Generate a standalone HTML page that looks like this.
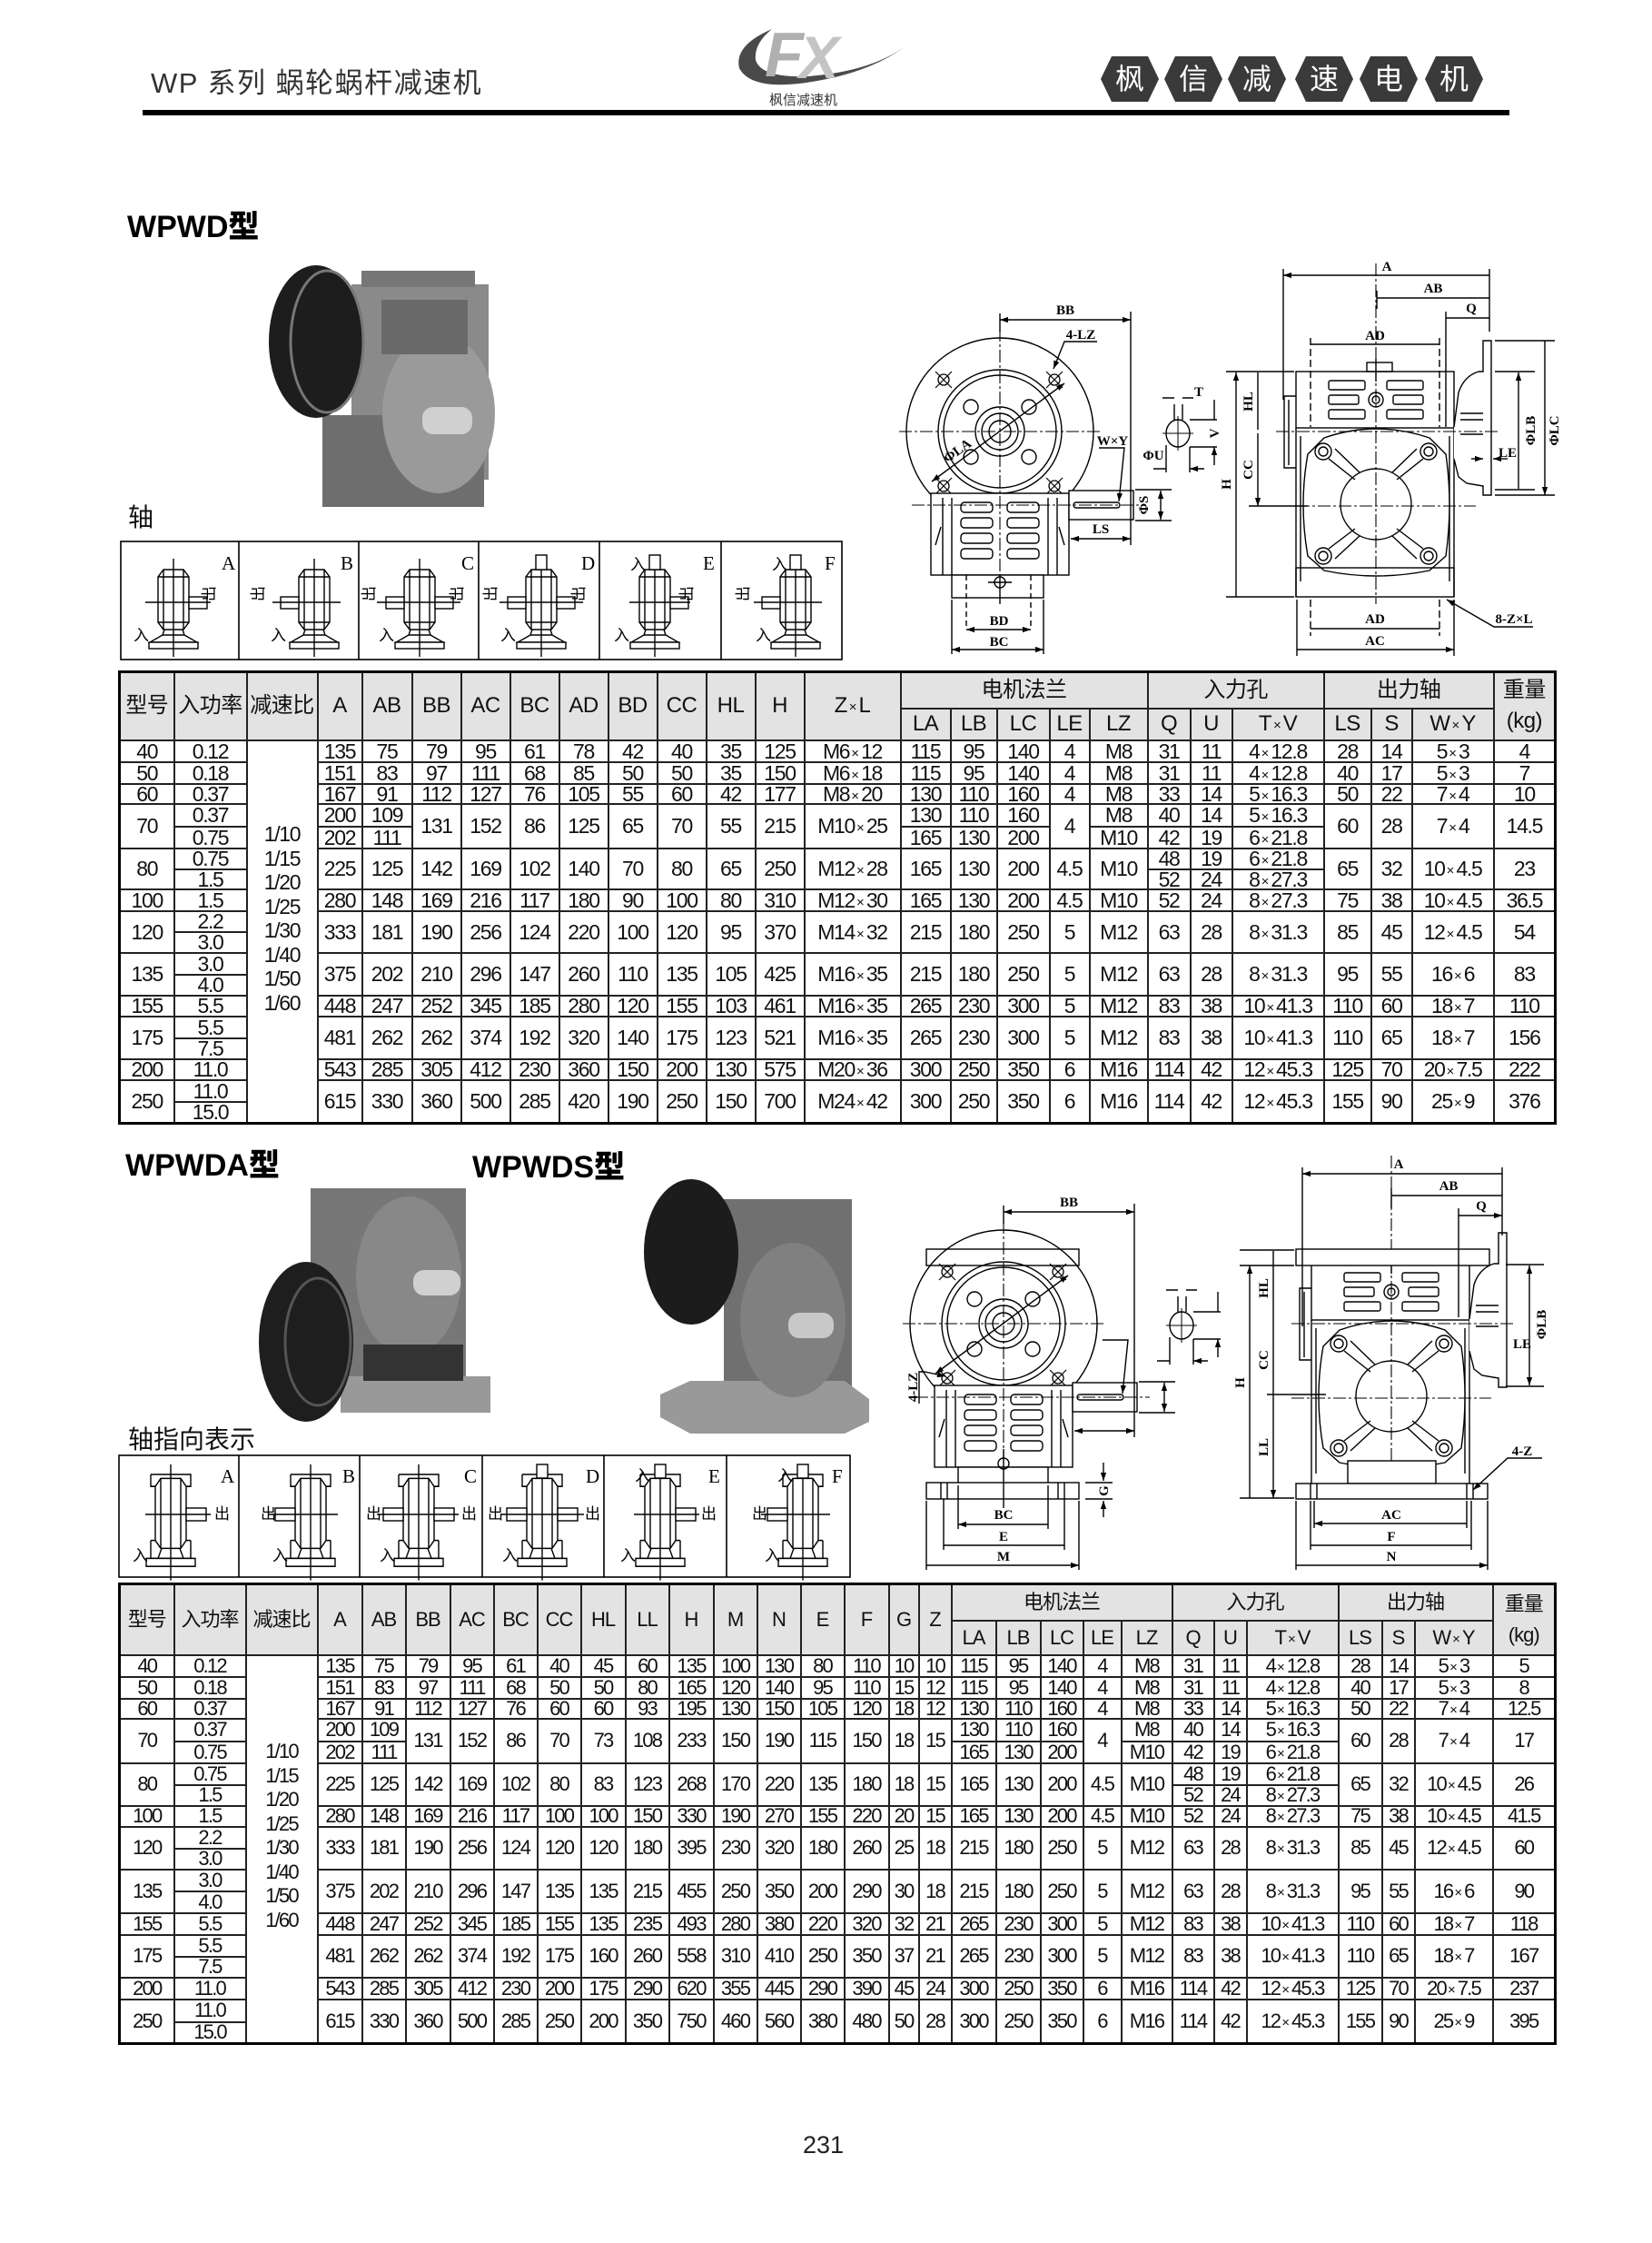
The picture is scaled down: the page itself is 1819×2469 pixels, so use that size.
<!DOCTYPE html>
<html><head><meta charset="utf-8">
<style>
html,body{margin:0;padding:0;background:#fff}
body{width:1819px;height:2469px;position:relative;overflow:hidden;font-family:"Liberation Sans","Noto Sans CJK SC",sans-serif}
.abs{position:absolute}
.t{position:absolute;border-collapse:collapse;table-layout:fixed;font-family:"Liberation Sans","Noto Sans CJK SC",sans-serif;font-size:23px;letter-spacing:-1.3px;border:3px solid #000;color:#111}
.t td{border:2px solid #222;padding:0;text-align:center;white-space:nowrap;overflow:hidden;line-height:18px;height:auto}
.t thead td{background:#e3e3e3;font-size:24px;letter-spacing:-0.5px;line-height:22px}
.t2{font-size:22px;letter-spacing:-1.8px}
.t2 thead td{font-size:22px;letter-spacing:-1px}
.x{font-size:15px;margin:0 2px;letter-spacing:0;line-height:0;vertical-align:1px}
.r{vertical-align:middle;line-height:26.5px !important;padding-bottom:28px !important}
.h{font-weight:900;font-size:34px;letter-spacing:0px;color:#000}
.dg text{font-family:"Liberation Serif",serif}
.ls text{font-family:"Liberation Serif","Noto Serif CJK SC",serif}
.cj text{font-family:"Noto Sans CJK SC",sans-serif}
</style></head><body>

<!-- Header -->
<div class="abs" style="left:166px;top:66px;font-size:31px;color:#333;letter-spacing:1.5px;font-family:'Liberation Sans','Noto Sans CJK SC',sans-serif">WP 系列 蜗轮蜗杆减速机</div>
<div class="abs h" style="left:140px;top:222px;font-family:'Liberation Sans','Noto Sans CJK SC',sans-serif">WPWD型</div>
<div class="abs" style="left:141px;top:548px;font-size:28px;color:#111;font-family:'Liberation Sans','Noto Sans CJK SC',sans-serif">轴</div>
<div class="abs h" style="left:138px;top:1255px;font-family:'Liberation Sans','Noto Sans CJK SC',sans-serif">WPWDA型</div>
<div class="abs h" style="left:520px;top:1257px;font-family:'Liberation Sans','Noto Sans CJK SC',sans-serif">WPWDS型</div>
<div class="abs" style="left:141px;top:1563px;font-size:28px;color:#111;font-family:'Liberation Sans','Noto Sans CJK SC',sans-serif">轴指向表示</div>
<div class="abs" style="left:884px;top:2346px;font-size:27px;color:#222">231</div>

<svg class="abs" style="left:0;top:0;font-family:'Liberation Sans','Noto Sans CJK SC',sans-serif" width="1819" height="2469" viewBox="0 0 1819 2469">
<defs>
<marker id="a" viewBox="0 0 10 10" refX="10" refY="5" markerUnits="userSpaceOnUse" markerWidth="11" markerHeight="9" orient="auto-start-reverse"><path d="M0,1.5L10,5L0,8.5z" fill="#000"/></marker>
<g id="xm"><circle r="6" fill="none" stroke="#000" stroke-width="1.3"/><path d="M-9,-9L9,9M9,-9L-9,9" stroke="#000" stroke-width="1.2"/></g>
<g id="cap" fill="none" stroke="#000" stroke-width="1.4">
<path d="M-11,-36H11L17,-28V22L11,30H-11L-17,22V-28Z" fill="#fff"/>
<path d="M-11,-36V30M11,-36V30M-17,-28H17M-17,22H17"/>
<path d="M-10,30L-12,36H12L10,30M-12,36L-26,44H26L12,36"/>
<rect x="-27" y="44" width="54" height="7" fill="#fff"/>
<path d="M0,-48V60"/>
</g>
<g id="cap2" fill="none" stroke="#000" stroke-width="1.4">
<path d="M-22,-40H22V-28H17M-22,-40V-28H-17" />
<path d="M-11,-36H11L17,-28V26L11,34H-11L-17,26V-28Z" fill="#fff"/>
<path d="M-11,-36V34M11,-36V34"/>
<path d="M-22,26V44H22V26M-17,26H-22M17,26H22"/>
<path d="M-10,34L-14,44M10,34L14,44"/>
<rect x="-27" y="44" width="54" height="8" fill="#fff"/>
<path d="M0,-50V66"/>
</g>
<g id="lv" fill="none" stroke="#000" stroke-width="1.4">
<circle cx="1101" cy="475" r="103"/>
<circle cx="1101" cy="475" r="68"/>
<circle cx="1101" cy="475" r="62"/>
<circle cx="1101" cy="475" r="27"/>
<circle cx="1101" cy="475" r="20"/>
<circle cx="1101" cy="475" r="12"/>
<circle cx="1069" cy="448" r="8"/><circle cx="1133" cy="448" r="8"/>
<circle cx="1069" cy="503" r="8"/><circle cx="1133" cy="503" r="8"/>
<use href="#xm" x="1039" y="418"/><use href="#xm" x="1161" y="418"/>
<use href="#xm" x="1039" y="535"/><use href="#xm" x="1161" y="535"/>
<rect x="1025" y="543" width="152" height="90" fill="#fff"/>
<path d="M1038,548V633M1048,548V633M1154,548V633M1164,548V633"/>
<path d="M1030,600L1036,580M1172,600L1166,580"/>
<rect x="1058" y="553" width="35" height="11" rx="4"/><rect x="1058" y="570" width="35" height="11" rx="4"/><rect x="1058" y="587" width="35" height="11" rx="4"/><rect x="1058" y="604" width="35" height="11" rx="4"/>
<rect x="1109" y="553" width="35" height="11" rx="4"/><rect x="1109" y="570" width="35" height="11" rx="4"/><rect x="1109" y="587" width="35" height="11" rx="4"/><rect x="1109" y="604" width="35" height="11" rx="4"/>
<rect x="1177" y="540" width="71" height="32" fill="#fff"/>
<path d="M1185,553H1230a3,3 0 0 1 0,6H1185a3,3 0 0 1 0,-6"/>
<path d="M990,475H1212M1101,362V665M1004,556H1262" stroke-dasharray="14 3 3 3" stroke-width="1.1"/>
<path d="M1101,352H1245" marker-start="url(#a)" marker-end="url(#a)"/>
<path d="M1245,343V600M1101,345V365"/>
<path d="M1179,593H1245" marker-start="url(#a)" marker-end="url(#a)"/>
<path d="M1278,540V572" marker-start="url(#a)" marker-end="url(#a)"/>
<path d="M1250,539H1290M1250,573H1290"/>
<path d="M1026,530L1172,422" marker-start="url(#a)" marker-end="url(#a)"/>
<path d="M1210,493H1238L1232,552" marker-end="url(#a)"/>
<ellipse cx="1297" cy="477" rx="13" ry="15"/>
<path d="M1280,477H1314M1297,458V496" stroke-width="1"/>
<path d="M1293,462V445M1302,462V445M1280,438H1293M1314,438H1302" />
<path d="M1310,462H1340M1310,492H1340M1337,440V462M1337,512V492" marker-end="url(#a)"/>
<path d="M1284,490V520M1310,492V520M1270,516H1284M1326,516H1310" marker-end="url(#a)"/>
</g>
<g id="rv" fill="none" stroke="#000" stroke-width="1.4">
<rect x="1427" y="409" width="174" height="62" fill="#fff"/>
<rect x="1505" y="399" width="28" height="10"/>
<path d="M1515,395V420"/>
<rect x="1463" y="419" width="40" height="10" rx="2"/><rect x="1463" y="435" width="33" height="10" rx="2"/><rect x="1463" y="451" width="40" height="10" rx="2"/>
<rect x="1527" y="419" width="40" height="10" rx="2"/><rect x="1534" y="435" width="33" height="10" rx="2"/><rect x="1527" y="451" width="40" height="10" rx="2"/>
<circle cx="1515" cy="440" r="8"/><circle cx="1515" cy="440" r="4"/>
<path d="M1427,471V657M1601,471V657M1432,480V640M1596,480V640"/>
<path d="M1458,482Q1515,462 1574,482L1592,500Q1600,555 1592,612L1574,628Q1515,640 1458,628L1440,612Q1430,555 1440,500Z" fill="#fff"/>
<circle cx="1515" cy="555" r="39"/>
<path d="M1463,505L1492,528M1567,505L1538,528M1463,604L1492,582M1567,604L1538,582M1470,494L1497,520M1560,494L1533,520M1470,615L1497,590M1560,615L1533,590"/>
<circle cx="1457" cy="497" r="9"/><circle cx="1457" cy="497" r="5"/>
<circle cx="1573" cy="497" r="9"/><circle cx="1573" cy="497" r="5"/>
<circle cx="1457" cy="612" r="9"/><circle cx="1457" cy="612" r="5"/>
<circle cx="1573" cy="612" r="9"/><circle cx="1573" cy="612" r="5"/>
<path d="M1427,436H1414V515H1427M1419,440V512"/>
<path d="M1601,470L1606,432Q1612,414 1628,409L1633,409V375H1642V545H1633V535L1615,532L1606,525L1601,505" fill="#fff"/>
<path d="M1608,455H1633M1608,462H1633M1608,478H1633"/>
<path d="M1405,475H1652M1405,557H1625M1515,290V665" stroke-dasharray="14 3 3 3" stroke-width="1.1"/>
</g>
</defs>

<!-- logo -->
<path d="M850,32Q808,50 814,75Q826,98 880,92Q960,82 1003,46Q965,78 890,84Q838,86 832,66Q830,48 850,32Z" fill="#4a4a4a"/>
<text x="842" y="84" font-size="70" font-style="italic" font-weight="bold" fill="#b0b0b0" style="font-family:'Liberation Sans',sans-serif">F</text>
<text x="880" y="86" font-size="66" font-style="italic" font-weight="bold" fill="#c4c4c4" style="font-family:'Liberation Sans',sans-serif">X</text>
<text x="847" y="115" font-size="15" fill="#333" style="font-family:'Noto Sans CJK SC',sans-serif">枫信减速机</text>
<!-- hexes -->
<g fill="#3a3a3a">
<path d="M1212,87L1224,62H1264L1276,87L1264,112H1224Z"/>
<path d="M1282,87L1294,62H1334L1346,87L1334,112H1294Z"/>
<path d="M1352,87L1364,62H1404L1416,87L1404,112H1364Z"/>
<path d="M1426,87L1438,62H1478L1490,87L1478,112H1438Z"/>
<path d="M1497,87L1509,62H1549L1561,87L1549,112H1509Z"/>
<path d="M1569,87L1581,62H1621L1633,87L1621,112H1581Z"/>
</g>
<g class="cj" fill="#fff" font-size="32" text-anchor="middle">
<text x="1244" y="98">枫</text><text x="1314" y="98">信</text><text x="1384" y="98">减</text><text x="1458" y="98">速</text><text x="1529" y="98">电</text><text x="1601" y="98">机</text>
</g>
<rect x="157" y="121" width="1505" height="6" fill="#000"/>

<!-- photo 1 -->
<rect x="387" y="313" width="151" height="215" fill="#8a8a8a"/>
<rect x="398" y="298" width="125" height="18" fill="#777"/>
<rect x="355" y="457" width="178" height="101" fill="#6e6e6e"/>
<ellipse cx="483" cy="455" rx="62" ry="88" fill="#9a9a9a"/>
<ellipse cx="348" cy="376" rx="52" ry="84" fill="#1d1d1d"/>
<ellipse cx="360" cy="376" rx="40" ry="78" fill="none" stroke="#777" stroke-width="3"/>
<rect x="420" y="330" width="95" height="60" fill="#6a6a6a"/>
<rect x="465" y="448" width="55" height="30" rx="12" fill="#d0d0d0"/>
<!-- photo DA -->
<rect x="342" y="1308" width="171" height="224" fill="#777"/>
<ellipse cx="450" cy="1405" rx="58" ry="88" fill="#888"/>
<rect x="375" y="1515" width="165" height="40" fill="#999"/>
<rect x="400" y="1480" width="110" height="40" fill="#333"/>
<ellipse cx="337" cy="1477" rx="52" ry="88" fill="#1e1e1e"/>
<ellipse cx="350" cy="1477" rx="36" ry="70" fill="none" stroke="#555" stroke-width="3"/>
<rect x="455" y="1398" width="52" height="28" rx="12" fill="#d0d0d0"/>
<!-- photo DS -->
<rect x="797" y="1320" width="141" height="220" fill="#707070"/>
<path d="M727,1535L760,1520H930L957,1540V1565L930,1578H760L727,1560Z" fill="#999"/>
<ellipse cx="873" cy="1453" rx="58" ry="85" fill="#808080"/>
<ellipse cx="761" cy="1378" rx="52" ry="80" fill="#1c1c1c"/>
<rect x="868" y="1445" width="50" height="28" rx="12" fill="#c8c8c8"/>

<!-- icon boxes top -->
<g fill="none" stroke="#000" stroke-width="1.6">
<rect x="133" y="596" width="794" height="130"/>
<path d="M263,596V726M395,596V726M527,596V726M660,596V726M794,596V726"/>
</g>
<g fill="none" stroke="#000" stroke-width="1.4">
<use href="#cap" x="191" y="663"/><rect x="208" y="657" width="20" height="13" fill="#fff"/><path d="M160,663H232"/>
<use href="#cap" x="346" y="663"/><rect x="309" y="657" width="20" height="13" fill="#fff"/><path d="M300,663H375"/>
<use href="#cap" x="462" y="663"/><rect x="425" y="657" width="20" height="13" fill="#fff"/><rect x="479" y="657" width="20" height="13" fill="#fff"/><path d="M415,663H507"/>
<use href="#cap" x="596" y="663"/><rect x="559" y="657" width="20" height="13" fill="#fff"/><rect x="613" y="657" width="20" height="13" fill="#fff"/><rect x="590" y="611" width="12" height="16" fill="#fff"/><path d="M550,663H642"/>
<use href="#cap" x="721" y="663"/><rect x="738" y="657" width="20" height="13" fill="#fff"/><rect x="715" y="611" width="12" height="16" fill="#fff"/><path d="M693,663H760"/>
<use href="#cap" x="876" y="663"/><rect x="839" y="657" width="20" height="13" fill="#fff"/><rect x="870" y="611" width="12" height="16" fill="#fff"/><path d="M830,663H905"/>
</g>
<g class="ls" font-size="21" fill="#000">
<text x="244" y="627">A</text><text x="375" y="627">B</text><text x="508" y="627">C</text><text x="640" y="627">D</text><text x="774" y="627">E</text><text x="908" y="627">F</text>
</g>
<g class="cj" font-size="17" fill="#000">
<text x="147" y="705">入</text><text x="298" y="705">入</text><text x="417" y="705">入</text><text x="551" y="705">入</text><text x="676" y="705">入</text><text x="832" y="705">入</text>
<text x="694" y="627">入</text><text x="850" y="627">入</text>
<text transform="translate(236,662) rotate(-90)">出</text>
<text transform="translate(290,662) rotate(-90)">出</text>
<text transform="translate(412,662) rotate(-90)">出</text><text transform="translate(509,662) rotate(-90)">出</text>
<text transform="translate(546,662) rotate(-90)">出</text><text transform="translate(643,662) rotate(-90)">出</text>
<text transform="translate(762,662) rotate(-90)">出</text>
<text transform="translate(824,662) rotate(-90)">出</text>
</g>

<!-- icon boxes bottom -->
<g fill="none" stroke="#000" stroke-width="1.6">
<rect x="131" y="1602" width="805" height="134"/>
<path d="M263,1602V1736M396,1602V1736M531,1602V1736M665,1602V1736M800,1602V1736"/>
</g>
<g fill="none" stroke="#000" stroke-width="1.4">
<g transform="translate(188,1667) scale(1,1.1)"><use href="#cap2"/></g><rect x="205" y="1660" width="22" height="14" fill="#fff"/><path d="M160,1667H232"/>
<g transform="translate(342,1667) scale(1,1.1)"><use href="#cap2"/></g><rect x="303" y="1660" width="22" height="14" fill="#fff"/><path d="M296,1667H372"/>
<g transform="translate(461,1667) scale(1,1.1)"><use href="#cap2"/></g><rect x="422" y="1660" width="22" height="14" fill="#fff"/><rect x="478" y="1660" width="22" height="14" fill="#fff"/><path d="M415,1667H505"/>
<g transform="translate(597,1667) scale(1,1.1)"><use href="#cap2"/></g><rect x="558" y="1660" width="22" height="14" fill="#fff"/><rect x="614" y="1660" width="22" height="14" fill="#fff"/><rect x="591" y="1612" width="12" height="15" fill="#fff"/><path d="M551,1667H643"/>
<g transform="translate(727,1667) scale(1,1.1)"><use href="#cap2"/></g><rect x="744" y="1660" width="22" height="14" fill="#fff"/><rect x="721" y="1612" width="12" height="15" fill="#fff"/><path d="M698,1667H770"/>
<g transform="translate(884,1667) scale(1,1.1)"><use href="#cap2"/></g><rect x="845" y="1660" width="22" height="14" fill="#fff"/><rect x="878" y="1612" width="12" height="15" fill="#fff"/><path d="M838,1667H914"/>
</g>
<g class="ls" font-size="21" fill="#000">
<text x="243" y="1632">A</text><text x="377" y="1632">B</text><text x="511" y="1632">C</text><text x="645" y="1632">D</text><text x="780" y="1632">E</text><text x="916" y="1632">F</text>
</g>
<g class="cj" font-size="17" fill="#000">
<text x="146" y="1718">入</text><text x="300" y="1718">入</text><text x="418" y="1718">入</text><text x="553" y="1718">入</text><text x="683" y="1718">入</text><text x="842" y="1718">入</text>
<text x="699" y="1630">入</text><text x="856" y="1630">入</text>
<text x="236" y="1672">出</text><text x="287" y="1672">出</text><text x="403" y="1672">出</text><text x="508" y="1672">出</text>
<text x="537" y="1672">出</text><text x="644" y="1672">出</text><text x="772" y="1672">出</text><text x="828" y="1672">出</text>
</g>

<!-- Diagram 1 -->
<use href="#lv"/>
<g fill="none" stroke="#000" stroke-width="1.4">
<rect x="1048" y="633" width="101" height="25" fill="#fff"/>
<path d="M1064,633V693M1135,633V693" stroke-dasharray="6 4"/>
<circle cx="1101" cy="641" r="6"/><path d="M1088,641H1114M1101,632V664"/>
<path d="M1064,693H1135" marker-start="url(#a)" marker-end="url(#a)"/>
<path d="M1048,660V720M1149,660V720"/>
<path d="M1048,715H1149" marker-start="url(#a)" marker-end="url(#a)"/>
<path d="M1208,376H1172L1160,406" marker-end="url(#a)"/>
</g>
<use href="#rv"/>
<g fill="none" stroke="#000" stroke-width="1.4">
<rect x="1427" y="625" width="174" height="32"/>
<path d="M1413,303H1640M1516,328H1640M1592,350H1640M1443,379H1585M1443,692H1585M1428,715H1601" marker-start="url(#a)" marker-end="url(#a)"/>
<path d="M1413,296V440M1640,296V365M1516,320V340M1592,343V470"/>
<path d="M1443,372V470M1585,372V470M1443,660V700M1585,660V700" stroke-dasharray="8 4"/>
<path d="M1428,660V722M1601,660V722"/>
<path d="M1361,410V657M1385,410V473M1385,477V557" marker-start="url(#a)" marker-end="url(#a)"/>
<path d="M1350,409H1425M1350,657H1425M1375,557H1440"/>
<path d="M1672,410V538M1701,375V545" marker-start="url(#a)" marker-end="url(#a)"/>
<path d="M1646,409H1690M1646,539H1690M1646,375H1712M1646,545H1712"/>
<path d="M1620,505H1633" marker-end="url(#a)"/><path d="M1660,505H1644" marker-end="url(#a)"/>
<path d="M1688,690H1645L1593,660" marker-end="url(#a)"/>
</g>
<g class="dg" font-size="15" font-weight="bold" fill="#000" text-anchor="middle">
<text x="1173" y="346">BB</text>
<text x="1190" y="373">4-LZ</text>
<text transform="translate(1057,500) rotate(-36)">ΦLA</text>
<text x="1225" y="490">W×Y</text>
<text x="1212" y="587">LS</text>
<text transform="translate(1264,556) rotate(-90)">ΦS</text>
<text x="1320" y="436">T</text>
<text transform="translate(1342,477) rotate(-90)">V</text>
<text x="1270" y="506">ΦU</text>
<text x="1100" y="688">BD</text>
<text x="1100" y="711">BC</text>
<text x="1527" y="298">A</text>
<text x="1578" y="322">AB</text>
<text x="1620" y="344">Q</text>
<text x="1514" y="374">AD</text>
<text transform="translate(1355,533) rotate(-90)">H</text>
<text transform="translate(1379,442) rotate(-90)">HL</text>
<text transform="translate(1379,517) rotate(-90)">CC</text>
<text transform="translate(1690,474) rotate(-90)">ΦLB</text>
<text transform="translate(1716,474) rotate(-90)">ΦLC</text>
<text x="1660" y="503">LE</text>
<text x="1514" y="686">AD</text>
<text x="1514" y="710">AC</text>
<text x="1667" y="686">8-Z×L</text>
</g>

<!-- Diagram 2 -->
<g fill="none" stroke="#000" stroke-width="1.4">
<rect x="1020" y="1375" width="168" height="18"/>
</g>
<use href="#lv" transform="translate(4,982)"/>
<g fill="none" stroke="#000" stroke-width="1.4">
<rect x="1055" y="1615" width="99" height="18" fill="#fff"/>
<rect x="1020" y="1632" width="168" height="18" fill="#fff"/>
<path d="M1036,1632V1650M1043,1632V1650M1165,1632V1650M1172,1632V1650"/>
<circle cx="1105" cy="1611" r="6"/><path d="M1105,1595V1660"/>
<path d="M1055,1678H1154M1039,1701H1172M1020,1723H1188" marker-start="url(#a)" marker-end="url(#a)"/>
<path d="M1055,1635V1683M1154,1635V1683M1039,1650V1706M1172,1650V1706M1020,1652V1728M1188,1652V1728"/>
<path d="M1215,1610V1630" marker-end="url(#a)"/><path d="M1215,1670V1652" marker-end="url(#a)"/>
<path d="M1195,1632H1225M1195,1650H1225"/>
<path d="M1012,1545V1510H1018L1041,1515" marker-end="url(#a)"/>
</g>
<use href="#rv" transform="translate(17,982)"/>
<g fill="none" stroke="#000" stroke-width="1.4">
<rect x="1427" y="1375" width="213" height="18" fill="#fff"/>
<rect x="1484" y="1608" width="97" height="25" fill="#fff"/>
<rect x="1427" y="1633" width="211" height="17" fill="#fff"/>
<path d="M1443,1633V1650M1450,1633V1650M1615,1633V1650M1622,1633V1650"/>
<path d="M1434,1292H1654M1532,1316H1654M1606,1338H1654" marker-start="url(#a)" marker-end="url(#a)"/>
<path d="M1434,1285V1460M1654,1285V1360M1532,1308V1330M1606,1330V1450"/>
<path d="M1376,1393V1649M1402,1377V1457M1402,1457V1535M1402,1535V1649" marker-start="url(#a)" marker-end="url(#a)"/>
<path d="M1365,1376H1425M1365,1393H1425M1365,1649H1425M1395,1535H1460"/>
<path d="M1447,1677H1615M1443,1701H1620M1427,1723H1638" marker-start="url(#a)" marker-end="url(#a)"/>
<path d="M1447,1652V1682M1615,1652V1682M1443,1652V1706M1620,1652V1706M1427,1652V1728M1638,1652V1728"/>
<path d="M1684,1393V1525" marker-start="url(#a)" marker-end="url(#a)"/>
<path d="M1658,1392H1700M1658,1526H1700"/>
<path d="M1698,1605H1660L1622,1640" marker-end="url(#a)"/>
</g>
<g class="dg" font-size="15" font-weight="bold" fill="#000" text-anchor="middle">
<text x="1177" y="1328">BB</text>
<text transform="translate(1010,1527) rotate(-90)">4-LZ</text>
<text x="1105" y="1672">BC</text>
<text x="1105" y="1696">E</text>
<text x="1105" y="1718">M</text>
<text transform="translate(1220,1641) rotate(-90)">G</text>
<text x="1540" y="1286">A</text>
<text x="1595" y="1310">AB</text>
<text x="1631" y="1332">Q</text>
<text transform="translate(1370,1522) rotate(-90)">H</text>
<text transform="translate(1396,1418) rotate(-90)">HL</text>
<text transform="translate(1396,1497) rotate(-90)">CC</text>
<text transform="translate(1396,1593) rotate(-90)">LL</text>
<text x="1532" y="1672">AC</text>
<text x="1532" y="1696">F</text>
<text x="1532" y="1718">N</text>
<text x="1676" y="1602">4-Z</text>
<text transform="translate(1702,1458) rotate(-90)">ΦLB</text>
<text x="1676" y="1484">LE</text>
</g>
</svg>

<!-- Table 1 -->
<table class="t" style="left:130px;top:738px;width:1581px">
<colgroup>
<col style="width:60px"><col style="width:80px"><col style="width:78px"><col style="width:49px"><col style="width:55px"><col style="width:54px"><col style="width:54px"><col style="width:54px"><col style="width:54px"><col style="width:54px"><col style="width:54px"><col style="width:54px"><col style="width:54px"><col style="width:106px"><col style="width:55px"><col style="width:51px"><col style="width:58px"><col style="width:44px"><col style="width:64px"><col style="width:47px"><col style="width:46px"><col style="width:101px"><col style="width:52px"><col style="width:45px"><col style="width:90px"><col style="width:68px">
</colgroup>
<thead>
<tr style="height:40px"><td rowspan="2">型号</td><td rowspan="2">入功率</td><td rowspan="2">减速比</td><td rowspan="2">A</td><td rowspan="2">AB</td><td rowspan="2">BB</td><td rowspan="2">AC</td><td rowspan="2">BC</td><td rowspan="2">AD</td><td rowspan="2">BD</td><td rowspan="2">CC</td><td rowspan="2">HL</td><td rowspan="2">H</td><td rowspan="2">Z<span class="x">×</span>L</td><td colspan="5">电机法兰</td><td colspan="3">入力孔</td><td colspan="3">出力轴</td><td rowspan="2" style="line-height:34px">重量<br>(kg)</td></tr>
<tr style="height:35px"><td>LA</td><td>LB</td><td>LC</td><td>LE</td><td>LZ</td><td>Q</td><td>U</td><td>T<span class="x">×</span>V</td><td>LS</td><td>S</td><td>W<span class="x">×</span>Y</td></tr>
</thead>
<tbody>
<tr style="height:24px"><td>40</td><td>0.12</td><td rowspan="18" class="r">1/10<br>1/15<br>1/20<br>1/25<br>1/30<br>1/40<br>1/50<br>1/60</td><td>135</td><td>75</td><td>79</td><td>95</td><td>61</td><td>78</td><td>42</td><td>40</td><td>35</td><td>125</td><td>M6<span class="x">×</span>12</td><td>115</td><td>95</td><td>140</td><td>4</td><td>M8</td><td>31</td><td>11</td><td>4<span class="x">×</span>12.8</td><td>28</td><td>14</td><td>5<span class="x">×</span>3</td><td>4</td></tr>
<tr style="height:24px"><td>50</td><td>0.18</td><td>151</td><td>83</td><td>97</td><td>111</td><td>68</td><td>85</td><td>50</td><td>50</td><td>35</td><td>150</td><td>M6<span class="x">×</span>18</td><td>115</td><td>95</td><td>140</td><td>4</td><td>M8</td><td>31</td><td>11</td><td>4<span class="x">×</span>12.8</td><td>40</td><td>17</td><td>5<span class="x">×</span>3</td><td>7</td></tr>
<tr style="height:22px"><td>60</td><td>0.37</td><td>167</td><td>91</td><td>112</td><td>127</td><td>76</td><td>105</td><td>55</td><td>60</td><td>42</td><td>177</td><td>M8<span class="x">×</span>20</td><td>130</td><td>110</td><td>160</td><td>4</td><td>M8</td><td>33</td><td>14</td><td>5<span class="x">×</span>16.3</td><td>50</td><td>22</td><td>7<span class="x">×</span>4</td><td>10</td></tr>
<tr style="height:25px"><td rowspan="2">70</td><td>0.37</td><td>200</td><td>109</td><td rowspan="2">131</td><td rowspan="2">152</td><td rowspan="2">86</td><td rowspan="2">125</td><td rowspan="2">65</td><td rowspan="2">70</td><td rowspan="2">55</td><td rowspan="2">215</td><td rowspan="2">M10<span class="x">×</span>25</td><td>130</td><td>110</td><td>160</td><td rowspan="2">4</td><td>M8</td><td>40</td><td>14</td><td>5<span class="x">×</span>16.3</td><td rowspan="2">60</td><td rowspan="2">28</td><td rowspan="2">7<span class="x">×</span>4</td><td rowspan="2">14.5</td></tr>
<tr style="height:24px"><td>0.75</td><td>202</td><td>111</td><td>165</td><td>130</td><td>200</td><td>M10</td><td>42</td><td>19</td><td>6<span class="x">×</span>21.8</td></tr>
<tr style="height:23px"><td rowspan="2">80</td><td>0.75</td><td rowspan="2">225</td><td rowspan="2">125</td><td rowspan="2">142</td><td rowspan="2">169</td><td rowspan="2">102</td><td rowspan="2">140</td><td rowspan="2">70</td><td rowspan="2">80</td><td rowspan="2">65</td><td rowspan="2">250</td><td rowspan="2">M12<span class="x">×</span>28</td><td rowspan="2">165</td><td rowspan="2">130</td><td rowspan="2">200</td><td rowspan="2">4.5</td><td rowspan="2">M10</td><td>48</td><td>19</td><td>6<span class="x">×</span>21.8</td><td rowspan="2">65</td><td rowspan="2">32</td><td rowspan="2">10<span class="x">×</span>4.5</td><td rowspan="2">23</td></tr>
<tr style="height:22px"><td>1.5</td><td>52</td><td>24</td><td>8<span class="x">×</span>27.3</td></tr>
<tr style="height:24px"><td>100</td><td>1.5</td><td>280</td><td>148</td><td>169</td><td>216</td><td>117</td><td>180</td><td>90</td><td>100</td><td>80</td><td>310</td><td>M12<span class="x">×</span>30</td><td>165</td><td>130</td><td>200</td><td>4.5</td><td>M10</td><td>52</td><td>24</td><td>8<span class="x">×</span>27.3</td><td>75</td><td>38</td><td>10<span class="x">×</span>4.5</td><td>36.5</td></tr>
<tr style="height:23px"><td rowspan="2">120</td><td>2.2</td><td rowspan="2">333</td><td rowspan="2">181</td><td rowspan="2">190</td><td rowspan="2">256</td><td rowspan="2">124</td><td rowspan="2">220</td><td rowspan="2">100</td><td rowspan="2">120</td><td rowspan="2">95</td><td rowspan="2">370</td><td rowspan="2">M14<span class="x">×</span>32</td><td rowspan="2">215</td><td rowspan="2">180</td><td rowspan="2">250</td><td rowspan="2">5</td><td rowspan="2">M12</td><td rowspan="2">63</td><td rowspan="2">28</td><td rowspan="2">8<span class="x">×</span>31.3</td><td rowspan="2">85</td><td rowspan="2">45</td><td rowspan="2">12<span class="x">×</span>4.5</td><td rowspan="2">54</td></tr>
<tr style="height:23px"><td>3.0</td></tr>
<tr style="height:24px"><td rowspan="2">135</td><td>3.0</td><td rowspan="2">375</td><td rowspan="2">202</td><td rowspan="2">210</td><td rowspan="2">296</td><td rowspan="2">147</td><td rowspan="2">260</td><td rowspan="2">110</td><td rowspan="2">135</td><td rowspan="2">105</td><td rowspan="2">425</td><td rowspan="2">M16<span class="x">×</span>35</td><td rowspan="2">215</td><td rowspan="2">180</td><td rowspan="2">250</td><td rowspan="2">5</td><td rowspan="2">M12</td><td rowspan="2">63</td><td rowspan="2">28</td><td rowspan="2">8<span class="x">×</span>31.3</td><td rowspan="2">95</td><td rowspan="2">55</td><td rowspan="2">16<span class="x">×</span>6</td><td rowspan="2">83</td></tr>
<tr style="height:23px"><td>4.0</td></tr>
<tr style="height:23px"><td>155</td><td>5.5</td><td>448</td><td>247</td><td>252</td><td>345</td><td>185</td><td>280</td><td>120</td><td>155</td><td>103</td><td>461</td><td>M16<span class="x">×</span>35</td><td>265</td><td>230</td><td>300</td><td>5</td><td>M12</td><td>83</td><td>38</td><td>10<span class="x">×</span>41.3</td><td>110</td><td>60</td><td>18<span class="x">×</span>7</td><td>110</td></tr>
<tr style="height:24px"><td rowspan="2">175</td><td>5.5</td><td rowspan="2">481</td><td rowspan="2">262</td><td rowspan="2">262</td><td rowspan="2">374</td><td rowspan="2">192</td><td rowspan="2">320</td><td rowspan="2">140</td><td rowspan="2">175</td><td rowspan="2">123</td><td rowspan="2">521</td><td rowspan="2">M16<span class="x">×</span>35</td><td rowspan="2">265</td><td rowspan="2">230</td><td rowspan="2">300</td><td rowspan="2">5</td><td rowspan="2">M12</td><td rowspan="2">83</td><td rowspan="2">38</td><td rowspan="2">10<span class="x">×</span>41.3</td><td rowspan="2">110</td><td rowspan="2">65</td><td rowspan="2">18<span class="x">×</span>7</td><td rowspan="2">156</td></tr>
<tr style="height:23px"><td>7.5</td></tr>
<tr style="height:23px"><td>200</td><td>11.0</td><td>543</td><td>285</td><td>305</td><td>412</td><td>230</td><td>360</td><td>150</td><td>200</td><td>130</td><td>575</td><td>M20<span class="x">×</span>36</td><td>300</td><td>250</td><td>350</td><td>6</td><td>M16</td><td>114</td><td>42</td><td>12<span class="x">×</span>45.3</td><td>125</td><td>70</td><td>20<span class="x">×</span>7.5</td><td>222</td></tr>
<tr style="height:24px"><td rowspan="2">250</td><td>11.0</td><td rowspan="2">615</td><td rowspan="2">330</td><td rowspan="2">360</td><td rowspan="2">500</td><td rowspan="2">285</td><td rowspan="2">420</td><td rowspan="2">190</td><td rowspan="2">250</td><td rowspan="2">150</td><td rowspan="2">700</td><td rowspan="2">M24<span class="x">×</span>42</td><td rowspan="2">300</td><td rowspan="2">250</td><td rowspan="2">350</td><td rowspan="2">6</td><td rowspan="2">M16</td><td rowspan="2">114</td><td rowspan="2">42</td><td rowspan="2">12<span class="x">×</span>45.3</td><td rowspan="2">155</td><td rowspan="2">90</td><td rowspan="2">25<span class="x">×</span>9</td><td rowspan="2">376</td></tr>
<tr style="height:24px"><td>15.0</td></tr>
</tbody></table>

<!-- Table 2 -->
<table class="t t2" style="left:130px;top:1742px;width:1581px">
<colgroup>
<col style="width:60px"><col style="width:79px"><col style="width:79px"><col style="width:49px"><col style="width:48px"><col style="width:49px"><col style="width:48px"><col style="width:48px"><col style="width:48px"><col style="width:49px"><col style="width:48px"><col style="width:49px"><col style="width:48px"><col style="width:48px"><col style="width:48px"><col style="width:49px"><col style="width:33px"><col style="width:36px"><col style="width:49px"><col style="width:49px"><col style="width:47px"><col style="width:42px"><col style="width:56px"><col style="width:46px"><col style="width:36px"><col style="width:101px"><col style="width:48px"><col style="width:36px"><col style="width:86px"><col style="width:69px">
</colgroup>
<thead>
<tr style="height:40px"><td rowspan="2">型号</td><td rowspan="2">入功率</td><td rowspan="2">减速比</td><td rowspan="2">A</td><td rowspan="2">AB</td><td rowspan="2">BB</td><td rowspan="2">AC</td><td rowspan="2">BC</td><td rowspan="2">CC</td><td rowspan="2">HL</td><td rowspan="2">LL</td><td rowspan="2">H</td><td rowspan="2">M</td><td rowspan="2">N</td><td rowspan="2">E</td><td rowspan="2">F</td><td rowspan="2">G</td><td rowspan="2">Z</td><td colspan="5">电机法兰</td><td colspan="3">入力孔</td><td colspan="3">出力轴</td><td rowspan="2" style="line-height:34px">重量<br>(kg)</td></tr>
<tr style="height:38px"><td>LA</td><td>LB</td><td>LC</td><td>LE</td><td>LZ</td><td>Q</td><td>U</td><td>T<span class="x">×</span>V</td><td>LS</td><td>S</td><td>W<span class="x">×</span>Y</td></tr>
</thead>
<tbody>
<tr style="height:24px"><td>40</td><td>0.12</td><td rowspan="18" class="r">1/10<br>1/15<br>1/20<br>1/25<br>1/30<br>1/40<br>1/50<br>1/60</td><td>135</td><td>75</td><td>79</td><td>95</td><td>61</td><td>40</td><td>45</td><td>60</td><td>135</td><td>100</td><td>130</td><td>80</td><td>110</td><td>10</td><td>10</td><td>115</td><td>95</td><td>140</td><td>4</td><td>M8</td><td>31</td><td>11</td><td>4<span class="x">×</span>12.8</td><td>28</td><td>14</td><td>5<span class="x">×</span>3</td><td>5</td></tr>
<tr style="height:24px"><td>50</td><td>0.18</td><td>151</td><td>83</td><td>97</td><td>111</td><td>68</td><td>50</td><td>50</td><td>80</td><td>165</td><td>120</td><td>140</td><td>95</td><td>110</td><td>15</td><td>12</td><td>115</td><td>95</td><td>140</td><td>4</td><td>M8</td><td>31</td><td>11</td><td>4<span class="x">×</span>12.8</td><td>40</td><td>17</td><td>5<span class="x">×</span>3</td><td>8</td></tr>
<tr style="height:22px"><td>60</td><td>0.37</td><td>167</td><td>91</td><td>112</td><td>127</td><td>76</td><td>60</td><td>60</td><td>93</td><td>195</td><td>130</td><td>150</td><td>105</td><td>120</td><td>18</td><td>12</td><td>130</td><td>110</td><td>160</td><td>4</td><td>M8</td><td>33</td><td>14</td><td>5<span class="x">×</span>16.3</td><td>50</td><td>22</td><td>7<span class="x">×</span>4</td><td>12.5</td></tr>
<tr style="height:25px"><td rowspan="2">70</td><td>0.37</td><td>200</td><td>109</td><td rowspan="2">131</td><td rowspan="2">152</td><td rowspan="2">86</td><td rowspan="2">70</td><td rowspan="2">73</td><td rowspan="2">108</td><td rowspan="2">233</td><td rowspan="2">150</td><td rowspan="2">190</td><td rowspan="2">115</td><td rowspan="2">150</td><td rowspan="2">18</td><td rowspan="2">15</td><td>130</td><td>110</td><td>160</td><td rowspan="2">4</td><td>M8</td><td>40</td><td>14</td><td>5<span class="x">×</span>16.3</td><td rowspan="2">60</td><td rowspan="2">28</td><td rowspan="2">7<span class="x">×</span>4</td><td rowspan="2">17</td></tr>
<tr style="height:24px"><td>0.75</td><td>202</td><td>111</td><td>165</td><td>130</td><td>200</td><td>M10</td><td>42</td><td>19</td><td>6<span class="x">×</span>21.8</td></tr>
<tr style="height:24px"><td rowspan="2">80</td><td>0.75</td><td rowspan="2">225</td><td rowspan="2">125</td><td rowspan="2">142</td><td rowspan="2">169</td><td rowspan="2">102</td><td rowspan="2">80</td><td rowspan="2">83</td><td rowspan="2">123</td><td rowspan="2">268</td><td rowspan="2">170</td><td rowspan="2">220</td><td rowspan="2">135</td><td rowspan="2">180</td><td rowspan="2">18</td><td rowspan="2">15</td><td rowspan="2">165</td><td rowspan="2">130</td><td rowspan="2">200</td><td rowspan="2">4.5</td><td rowspan="2">M10</td><td>48</td><td>19</td><td>6<span class="x">×</span>21.8</td><td rowspan="2">65</td><td rowspan="2">32</td><td rowspan="2">10<span class="x">×</span>4.5</td><td rowspan="2">26</td></tr>
<tr style="height:23px"><td>1.5</td><td>52</td><td>24</td><td>8<span class="x">×</span>27.3</td></tr>
<tr style="height:23px"><td>100</td><td>1.5</td><td>280</td><td>148</td><td>169</td><td>216</td><td>117</td><td>100</td><td>100</td><td>150</td><td>330</td><td>190</td><td>270</td><td>155</td><td>220</td><td>20</td><td>15</td><td>165</td><td>130</td><td>200</td><td>4.5</td><td>M10</td><td>52</td><td>24</td><td>8<span class="x">×</span>27.3</td><td>75</td><td>38</td><td>10<span class="x">×</span>4.5</td><td>41.5</td></tr>
<tr style="height:24px"><td rowspan="2">120</td><td>2.2</td><td rowspan="2">333</td><td rowspan="2">181</td><td rowspan="2">190</td><td rowspan="2">256</td><td rowspan="2">124</td><td rowspan="2">120</td><td rowspan="2">120</td><td rowspan="2">180</td><td rowspan="2">395</td><td rowspan="2">230</td><td rowspan="2">320</td><td rowspan="2">180</td><td rowspan="2">260</td><td rowspan="2">25</td><td rowspan="2">18</td><td rowspan="2">215</td><td rowspan="2">180</td><td rowspan="2">250</td><td rowspan="2">5</td><td rowspan="2">M12</td><td rowspan="2">63</td><td rowspan="2">28</td><td rowspan="2">8<span class="x">×</span>31.3</td><td rowspan="2">85</td><td rowspan="2">45</td><td rowspan="2">12<span class="x">×</span>4.5</td><td rowspan="2">60</td></tr>
<tr style="height:23px"><td>3.0</td></tr>
<tr style="height:24px"><td rowspan="2">135</td><td>3.0</td><td rowspan="2">375</td><td rowspan="2">202</td><td rowspan="2">210</td><td rowspan="2">296</td><td rowspan="2">147</td><td rowspan="2">135</td><td rowspan="2">135</td><td rowspan="2">215</td><td rowspan="2">455</td><td rowspan="2">250</td><td rowspan="2">350</td><td rowspan="2">200</td><td rowspan="2">290</td><td rowspan="2">30</td><td rowspan="2">18</td><td rowspan="2">215</td><td rowspan="2">180</td><td rowspan="2">250</td><td rowspan="2">5</td><td rowspan="2">M12</td><td rowspan="2">63</td><td rowspan="2">28</td><td rowspan="2">8<span class="x">×</span>31.3</td><td rowspan="2">95</td><td rowspan="2">55</td><td rowspan="2">16<span class="x">×</span>6</td><td rowspan="2">90</td></tr>
<tr style="height:24px"><td>4.0</td></tr>
<tr style="height:24px"><td>155</td><td>5.5</td><td>448</td><td>247</td><td>252</td><td>345</td><td>185</td><td>155</td><td>135</td><td>235</td><td>493</td><td>280</td><td>380</td><td>220</td><td>320</td><td>32</td><td>21</td><td>265</td><td>230</td><td>300</td><td>5</td><td>M12</td><td>83</td><td>38</td><td>10<span class="x">×</span>41.3</td><td>110</td><td>60</td><td>18<span class="x">×</span>7</td><td>118</td></tr>
<tr style="height:24px"><td rowspan="2">175</td><td>5.5</td><td rowspan="2">481</td><td rowspan="2">262</td><td rowspan="2">262</td><td rowspan="2">374</td><td rowspan="2">192</td><td rowspan="2">175</td><td rowspan="2">160</td><td rowspan="2">260</td><td rowspan="2">558</td><td rowspan="2">310</td><td rowspan="2">410</td><td rowspan="2">250</td><td rowspan="2">350</td><td rowspan="2">37</td><td rowspan="2">21</td><td rowspan="2">265</td><td rowspan="2">230</td><td rowspan="2">300</td><td rowspan="2">5</td><td rowspan="2">M12</td><td rowspan="2">83</td><td rowspan="2">38</td><td rowspan="2">10<span class="x">×</span>41.3</td><td rowspan="2">110</td><td rowspan="2">65</td><td rowspan="2">18<span class="x">×</span>7</td><td rowspan="2">167</td></tr>
<tr style="height:23px"><td>7.5</td></tr>
<tr style="height:24px"><td>200</td><td>11.0</td><td>543</td><td>285</td><td>305</td><td>412</td><td>230</td><td>200</td><td>175</td><td>290</td><td>620</td><td>355</td><td>445</td><td>290</td><td>390</td><td>45</td><td>24</td><td>300</td><td>250</td><td>350</td><td>6</td><td>M16</td><td>114</td><td>42</td><td>12<span class="x">×</span>45.3</td><td>125</td><td>70</td><td>20<span class="x">×</span>7.5</td><td>237</td></tr>
<tr style="height:25px"><td rowspan="2">250</td><td>11.0</td><td rowspan="2">615</td><td rowspan="2">330</td><td rowspan="2">360</td><td rowspan="2">500</td><td rowspan="2">285</td><td rowspan="2">250</td><td rowspan="2">200</td><td rowspan="2">350</td><td rowspan="2">750</td><td rowspan="2">460</td><td rowspan="2">560</td><td rowspan="2">380</td><td rowspan="2">480</td><td rowspan="2">50</td><td rowspan="2">28</td><td rowspan="2">300</td><td rowspan="2">250</td><td rowspan="2">350</td><td rowspan="2">6</td><td rowspan="2">M16</td><td rowspan="2">114</td><td rowspan="2">42</td><td rowspan="2">12<span class="x">×</span>45.3</td><td rowspan="2">155</td><td rowspan="2">90</td><td rowspan="2">25<span class="x">×</span>9</td><td rowspan="2">395</td></tr>
<tr style="height:24px"><td>15.0</td></tr>
</tbody></table>

</body></html>
